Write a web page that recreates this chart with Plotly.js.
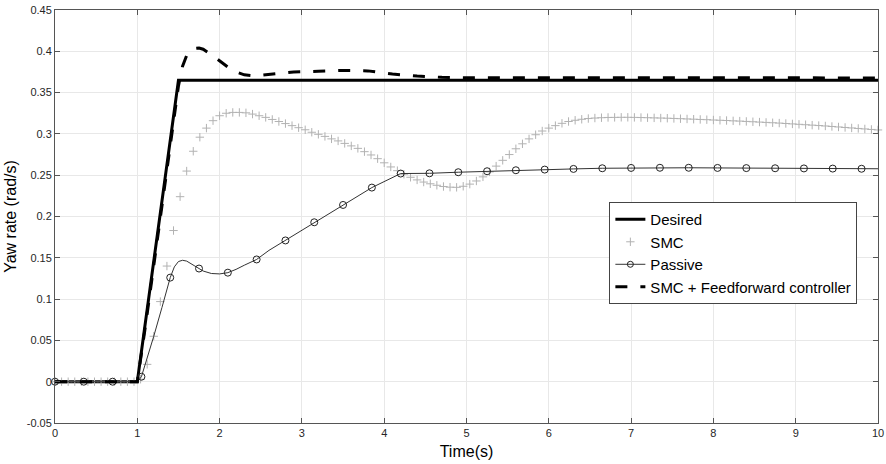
<!DOCTYPE html>
<html>
<head>
<meta charset="utf-8">
<script src="https://cdn.plot.ly/plotly-3.0.1.min.js"></script>
<style>html,body{margin:0;padding:0;background:#fff;}#chart{width:886px;height:464px;}</style>
</head>
<body>
<div id="chart"></div>
<script>
// Desired yaw rate
const desiredT = [0, 1, 1.5, 10];
const desiredY = [0, 0, 0.365, 0.365];

// SMC (sampled every 0.08 s)
const smcY = [
  0,0,0,0,0,0,0,0,0,0,0,0,0,
  0.003,0.021,0.055,0.097,0.140,0.183,0.224,0.255,0.279,0.296,
  0.307,0.316,0.322,0.325,0.326,0.326,0.3255,0.324,0.322,0.320,
  0.3175,0.315,0.3125,0.310,0.3075,0.305,0.302,0.2995,0.297,0.294,
  0.2915,0.2885,0.2855,0.2825,0.2785,0.2745,0.270,0.265,0.260,0.2555,
  0.2512,0.2475,0.2443,0.2417,0.2396,0.2378,0.2363,0.2355,0.2353,0.2366,
  0.2392,0.243,0.248,0.254,0.261,0.268,0.275,0.282,0.288,0.294,
  0.299,0.3035,0.307,0.310,0.3128,0.315,0.3165,0.3177,0.3186,0.3192,
  0.3196,0.3199,0.320,0.3201,0.3201,0.320,
  0.3198,0.3196,0.3194,0.3192,0.319,0.3187,0.3184,0.3181,0.3178,0.3175,0.3172,0.3168,
  0.3165,0.3162,0.3158,0.3155,0.3151,0.3147,0.3143,0.3139,0.3135,0.3131,0.3126,0.3121,0.3116,
  0.3111,0.3106,0.3101,0.3096,0.309,0.3084,0.3078,0.3072,0.3066,0.306,0.3054,0.3048
];
const smcT = smcY.map((_, i) => +(i * 0.08).toFixed(2));

// Passive (line)
const passiveT = [0,0.35,0.7,1.0,1.05,1.1,1.2,1.3,1.4,1.45,1.5,1.55,1.6,1.7,1.8,1.9,2.0,2.1,2.2,2.3,2.45,2.6,2.8,3.0,3.15,3.5,3.85,4.2,4.55,4.9,5.25,5.6,5.95,6.3,6.65,7.0,7.35,7.7,8.05,8.4,8.75,9.1,9.45,9.8,10];
const passiveY = [0,0,0,0,0.006,0.022,0.055,0.09,0.126,0.139,0.1455,0.147,0.146,0.14,0.134,0.131,0.1305,0.132,0.136,0.141,0.148,0.159,0.171,0.184,0.193,0.214,0.235,0.252,0.2523,0.2536,0.2548,0.256,0.2568,0.2576,0.2584,0.2588,0.259,0.259,0.2588,0.2586,0.2584,0.2582,0.258,0.2578,0.2578];
// Passive (circle markers every 0.35 s)
const passiveMarkY = [0,0,0,0.006,0.126,0.137,0.132,0.148,0.171,0.193,0.214,0.235,0.252,0.2523,0.2536,0.2548,0.256,0.2568,0.2576,0.2584,0.2588,0.259,0.259,0.2588,0.2586,0.2584,0.2582,0.258,0.2578];
const passiveMarkT = passiveMarkY.map((_, i) => +(i * 0.35).toFixed(2));

// SMC + Feedforward controller
const ffT = [0,1.0,1.1,1.2,1.3,1.4,1.5,1.55,1.6,1.65,1.7,1.75,1.8,1.9,2.0,2.1,2.2,2.3,2.4,2.5,2.7,2.9,3.2,3.5,3.8,4.1,4.4,4.7,5.0,6.0,7.0,8.0,9.0,10.0];
const ffY = [0,0,0.068,0.14,0.215,0.29,0.358,0.382,0.395,0.401,0.4035,0.404,0.4025,0.396,0.388,0.381,0.375,0.3715,0.3705,0.371,0.373,0.375,0.3758,0.3768,0.3763,0.3725,0.370,0.3685,0.368,0.3678,0.3678,0.3678,0.3678,0.3678];

const xTicks = [0,1,2,3,4,5,6,7,8,9,10];
const yTicks = [-0.05,0,0.05,0.1,0.15,0.2,0.25,0.3,0.35,0.4,0.45];
const yTickText = ['-0.05','0','0.05','0.1','0.15','0.2','0.25','0.3','0.35','0.4','0.45'];

const FONT = '"Liberation Sans", Arial, Helvetica, sans-serif';

const traces = [
  {x: desiredT, y: desiredY, name: 'Desired', mode: 'lines',
   line: {color: '#000', width: 3}},
  {x: smcT, y: smcY, name: 'SMC', mode: 'markers', cliponaxis: false,
   marker: {symbol: 'cross-thin-open', size: 6, line: {color: '#b2b2b2', width: 1}, color: '#b2b2b2'}},
  {x: passiveT, y: passiveY, name: 'Passive', mode: 'lines', showlegend: false,
   line: {color: '#333', width: 1}},
  {x: passiveMarkT, y: passiveMarkY, name: 'Passive', mode: 'markers', showlegend: false, cliponaxis: false,
   marker: {symbol: 'circle-open', size: 7, color: '#222', line: {color: '#222', width: 1}}},
  {x: [null], y: [null], name: 'Passive', mode: 'lines+markers',
   line: {color: '#333', width: 1},
   marker: {symbol: 'circle-open', size: 6, color: '#222', line: {color: '#222', width: 1}}},
  {x: ffT, y: ffY, name: 'SMC + Feedforward controller', mode: 'lines',
   line: {color: '#000', width: 3, dash: '12px,13px'}}
];

const axisCommon = {
  ticks: 'inside', ticklen: 5, tickwidth: 1, tickcolor: '#555',
  showline: true, linecolor: '#555', linewidth: 1, mirror: 'ticks',
  showgrid: true, gridcolor: '#e8e8e8', gridwidth: 1, zeroline: false,
  tickfont: {family: FONT, size: 11, color: '#262626'}
};

const layout = {
  width: 886, height: 464,
  margin: {l: 55, r: 8, t: 10, b: 41},
  paper_bgcolor: '#fff', plot_bgcolor: '#fff',
  font: {family: FONT, color: '#000'},
  showlegend: true,
  xaxis: Object.assign({}, axisCommon, {
    range: [0, 10], tickmode: 'array', tickvals: xTicks,
    title: {text: 'Time(s)', font: {family: FONT, size: 16, color: '#000'}, standoff: 7}
  }),
  yaxis: Object.assign({}, axisCommon, {
    range: [-0.05, 0.45], tickmode: 'array', tickvals: yTicks, ticktext: yTickText,
    title: {text: 'Yaw rate (rad/s)', font: {family: FONT, size: 16, color: '#000'}, standoff: 6}
  }),
  legend: {
    x: 0.6736, y: 0.535, xanchor: 'left', yanchor: 'top',
    bgcolor: '#fff', bordercolor: '#444', borderwidth: 1,
    font: {family: FONT, size: 15, color: '#000'},
    itemwidth: 30, tracegroupgap: 0
  }
};

Plotly.newPlot('chart', traces, layout, {displayModeBar: false, staticPlot: true});
</script>
</body>
</html>
